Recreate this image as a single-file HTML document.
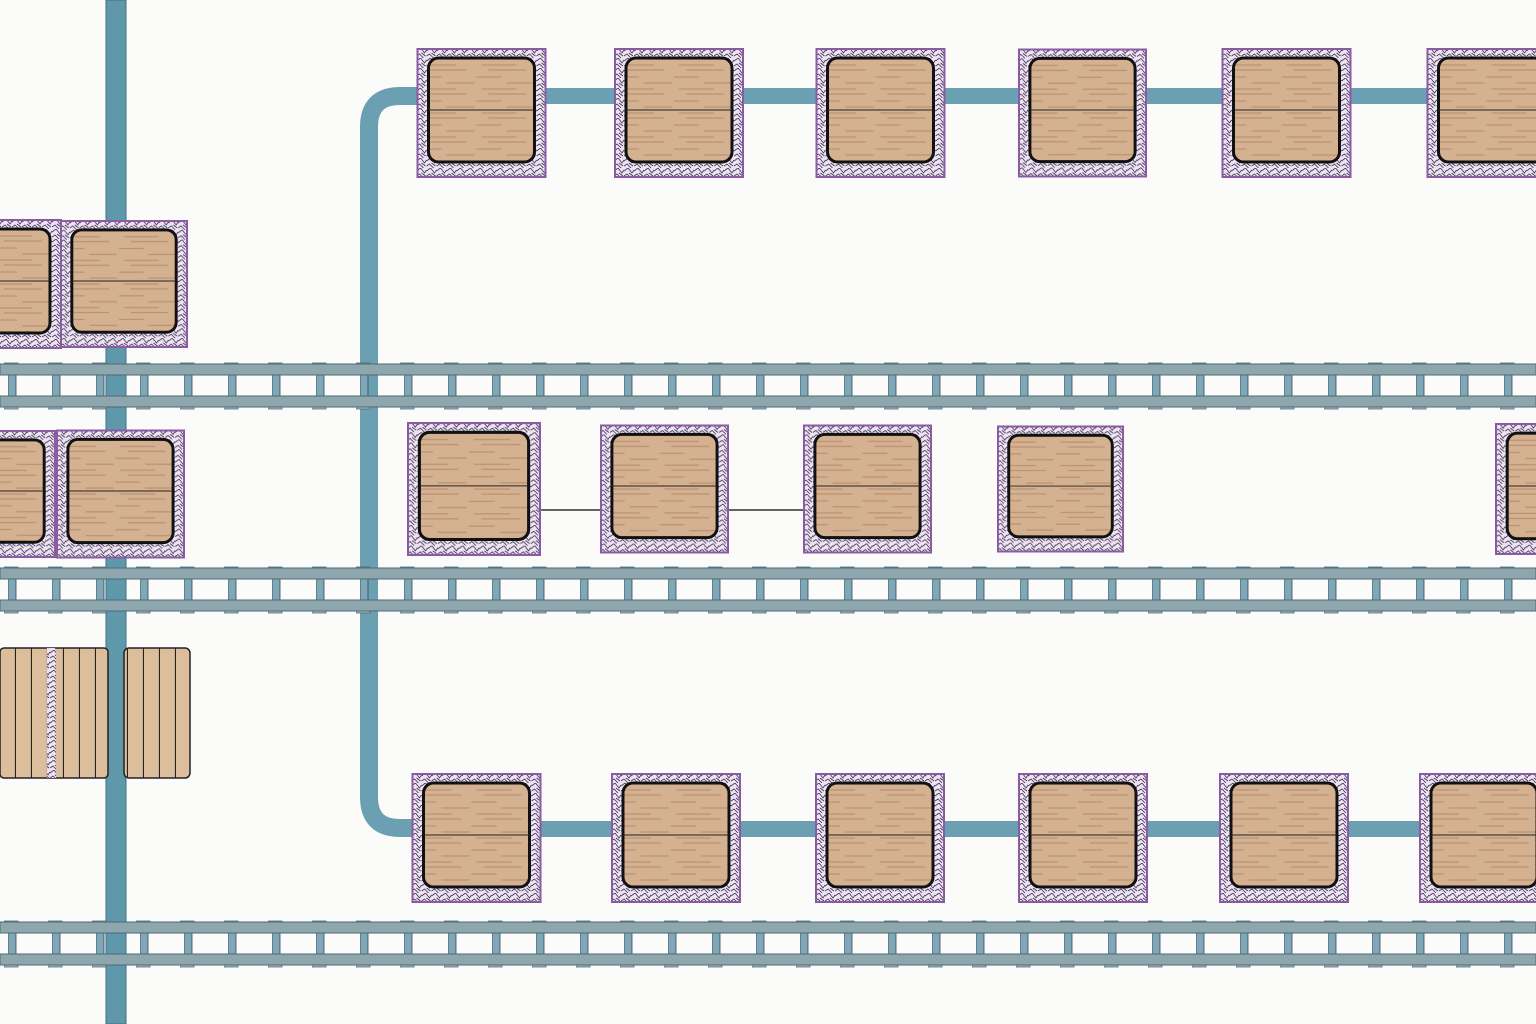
<!DOCTYPE html>
<html><head><meta charset="utf-8"><style>html,body{margin:0;padding:0;background:#fbfbfa}svg{display:block}</style></head>
<body>
<svg width="1536" height="1024" viewBox="0 0 1536 1024" xmlns="http://www.w3.org/2000/svg">
<defs>
<pattern id="hatch" width="10" height="10" patternUnits="userSpaceOnUse">
<rect width="10" height="10" fill="#efe2f3"/>
<path d="M0 3 L4 0 L8 5 L10 2 M0 8 L3 6 L7 10 M5 5 L9 8" stroke="#3a3350" stroke-width="0.8" fill="none"/>
</pattern>
<pattern id="wood" width="60" height="24" patternUnits="userSpaceOnUse">
<rect width="60" height="24" fill="#d4b190"/>
<path d="M0 5 H25 M30 11 H58 M5 17 H40 M12 22 H50" stroke="#bb9272" stroke-width="1.2"/>
</pattern>
<pattern id="planks" width="16" height="20" patternUnits="userSpaceOnUse">
<rect width="16" height="20" fill="#dcbd9c"/>
<line x1="15.5" y1="0" x2="15.5" y2="20" stroke="#222" stroke-width="1.2"/>
</pattern>
<pattern id="rungs" width="44" height="60" patternUnits="userSpaceOnUse" x="8">
<rect x="0" y="0" width="8" height="60" fill="#7fa7b6" stroke="#2f4a5a" stroke-width="0.8"/>
</pattern>
<pattern id="tabs" width="44" height="8" patternUnits="userSpaceOnUse" x="4">
<rect x="0" y="1" width="14" height="6" fill="#a9bcc3" stroke="#4f6a75" stroke-width="0.8"/>
</pattern>
<symbol id="node" viewBox="0 0 130 130">
<rect x="1" y="1" width="128" height="128" fill="url(#hatch)" stroke="#8a5aa3" stroke-width="2"/>
<rect x="12" y="10" width="106" height="104" rx="10" fill="url(#wood)" stroke="#111" stroke-width="3"/>
<line x1="12" y1="62" x2="118" y2="62" stroke="#222" stroke-width="1"/>
</symbol>
<symbol id="rail" viewBox="0 0 1536 60">
<rect x="0" y="0" width="1536" height="6" fill="url(#tabs)"/>
<rect x="0" y="40" width="1536" height="8" fill="url(#tabs)"/>
<rect x="0" y="11" width="1536" height="24" fill="url(#rungs)"/>
<rect x="0" y="2" width="1536" height="11" fill="#8ea6ad" stroke="#4f6a75" stroke-width="1"/>
<rect x="0" y="34" width="1536" height="11" fill="#8ea6ad" stroke="#4f6a75" stroke-width="1"/>
</symbol>
</defs>

<rect x="106" y="0" width="20" height="1024" fill="#5f97ab" stroke="#3f6f82" stroke-width="1"/>

<path d="M418 96 H400 Q369 96 369 127 V797 Q369 828 400 828 H418" fill="none" stroke="#6aa0b2" stroke-width="18"/>
<rect x="540" y="88" width="900" height="16" fill="#6aa0b2"/>
<rect x="540" y="821" width="900" height="16" fill="#6aa0b2"/>
<line x1="540" y1="510" x2="805" y2="510" stroke="#333" stroke-width="1.5"/>

<use href="#rail" x="0" y="362" width="1536" height="60"/>
<use href="#rail" x="0" y="566" width="1536" height="60"/>
<use href="#rail" x="0" y="920" width="1536" height="60"/>

<use href="#node" x="416" y="48" width="131" height="130"/>
<use href="#node" x="613" y="48" width="132" height="130"/>
<use href="#node" x="814" y="48" width="133" height="130"/>
<use href="#node" x="1018" y="48" width="129" height="130"/>
<use href="#node" x="1220" y="48" width="133" height="130"/>
<use href="#node" x="1425" y="48" width="133" height="130"/>

<use href="#node" x="407" y="422" width="134" height="134"/>
<use href="#node" x="600" y="422" width="129" height="134"/>
<use href="#node" x="803" y="422" width="129" height="134"/>
<use href="#node" x="997" y="422" width="127" height="134"/>
<use href="#node" x="1495" y="422" width="132" height="134"/>

<use href="#node" x="410" y="773" width="133" height="130"/>
<use href="#node" x="610" y="773" width="132" height="130"/>
<use href="#node" x="814" y="773" width="132" height="130"/>
<use href="#node" x="1018" y="773" width="130" height="130"/>
<use href="#node" x="1218" y="773" width="132" height="130"/>
<use href="#node" x="1418" y="773" width="132" height="130"/>

<use href="#node" x="-68" y="218" width="130" height="132"/>
<use href="#node" x="60" y="218" width="128" height="132"/>
<use href="#node" x="-72" y="428" width="128" height="132"/>
<use href="#node" x="56" y="428" width="129" height="132"/>

<rect x="0" y="648" width="108" height="130" rx="4" fill="url(#planks)" stroke="#222" stroke-width="1.5"/>
<rect x="47" y="648" width="9" height="130" fill="url(#hatch)"/>
<rect x="124" y="648" width="66" height="130" rx="5" fill="url(#planks)" stroke="#222" stroke-width="1.5"/>
</svg>
</body></html>
